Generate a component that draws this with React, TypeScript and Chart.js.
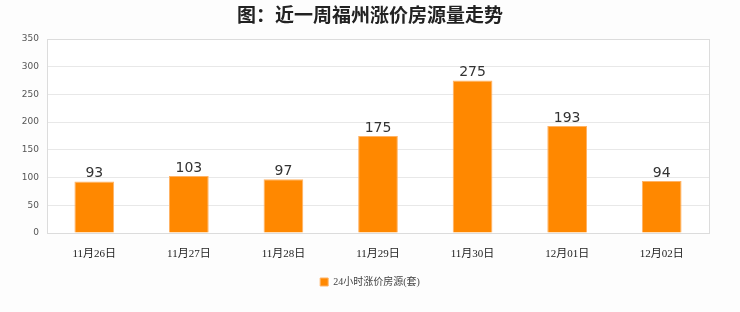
import React, { useEffect, useRef } from "react";
import { Chart, registerables } from "chart.js";

Chart.register(...registerables);

const categories = ["11月26日", "11月27日", "11月28日", "11月29日", "11月30日", "12月01日", "12月02日"];
const values = [93, 103, 97, 175, 275, 193, 94];
const seriesName = "24小时涨价房源(套)";
const titleText = "图：近一周福州涨价房源量走势";

const W = 740;
const H = 312;
const CA = { left: 47, right: 709, top: 39, bottom: 233 };

const framePlugin = {
  id: "frame",
  beforeDraw(chart: any) {
    const { ctx } = chart;
    ctx.save();
    ctx.fillStyle = "#fdfdfd";
    ctx.fillRect(0, 0, chart.width, chart.height);
    const a = chart.chartArea;
    ctx.fillStyle = "#ffffff";
    ctx.fillRect(a.left, a.top, a.right - a.left, a.bottom - a.top);
    ctx.fillStyle = "#222";
    ctx.font = 'bold 19px "Noto Sans CJK SC", sans-serif';
    ctx.textAlign = "center";
    ctx.textBaseline = "middle";
    ctx.fillText(titleText, chart.width / 2, 15);
    ctx.restore();
  },
  afterDatasetsDraw(chart: any) {
    const { ctx } = chart;
    const a = chart.chartArea;
    ctx.save();
    ctx.strokeStyle = "#dcdcdc";
    ctx.lineWidth = 1;
    ctx.strokeRect(Math.round(a.left) + 0.5, Math.round(a.top) + 0.5, Math.round(a.right - a.left), Math.round(a.bottom - a.top));
    ctx.restore();
    const meta = chart.getDatasetMeta(0);
    ctx.save();
    ctx.fillStyle = "#333";
    ctx.font = '14px "DejaVu Sans", sans-serif';
    ctx.textAlign = "center";
    ctx.textBaseline = "bottom";
    meta.data.forEach((bar: any, i: number) => {
      ctx.fillText(String(chart.data.datasets[0].data[i]), bar.x, bar.y - 1);
    });
    ctx.restore();
  },
};

export default function App() {
  const ref = useRef<HTMLCanvasElement>(null);
  useEffect(() => {
    document.body.style.margin = "0";
    const chart = new Chart(ref.current!, {
      type: "bar",
      data: {
        labels: categories,
        datasets: [
          {
            label: seriesName,
            data: values,
            backgroundColor: "#ff8800",
            borderColor: "#ffb366",
            borderWidth: 1,
            barPercentage: 0.42,
            categoryPercentage: 1,
          },
        ],
      },
      options: {
        responsive: false,
        animation: false,
        layout: { padding: { left: 0, right: 0, top: CA.top, bottom: 15 } },
        plugins: {
          title: { display: false },
          legend: {
            position: "bottom",
            labels: {
              boxWidth: 8,
              boxHeight: 8,
              color: "#444",
              font: { size: 10, family: '"Liberation Serif", "Noto Sans CJK SC", serif' },
              padding: 10,
            },
          },
          tooltip: { enabled: false },
        },
        scales: {
          x: {
            grid: { display: false },
            border: { display: false },
            ticks: {
              color: "#222",
              font: { size: 11, family: '"Liberation Serif", "Noto Sans CJK SC", serif' },
              padding: 7,
            },
            afterFit(scale: any) {
              scale.height = 34;
            },
          },
          y: {
            min: 0,
            max: 350,
            grid: { color: "#e8e8e8", tickLength: 0 },
            border: { display: false },
            ticks: {
              stepSize: 50,
              color: "#555",
              font: { size: 9, family: '"DejaVu Sans", sans-serif' },
              padding: 8,
            },
            afterFit(scale: any) {
              scale.width = CA.left;
            },
          },
          yRight: {
            position: "right",
            min: 0,
            max: 350,
            grid: { display: false },
            border: { display: false },
            ticks: { display: false },
            afterFit(scale: any) {
              scale.width = W - CA.right;
            },
          },
        },
      },
      plugins: [framePlugin],
    });
    return () => chart.destroy();
  }, []);
  return (
    <div style={{ position: "absolute", left: 0, top: 0, width: W, height: H }}>
      <canvas ref={ref} width={W} height={H} style={{ width: W, height: H }} />
    </div>
  );
}
